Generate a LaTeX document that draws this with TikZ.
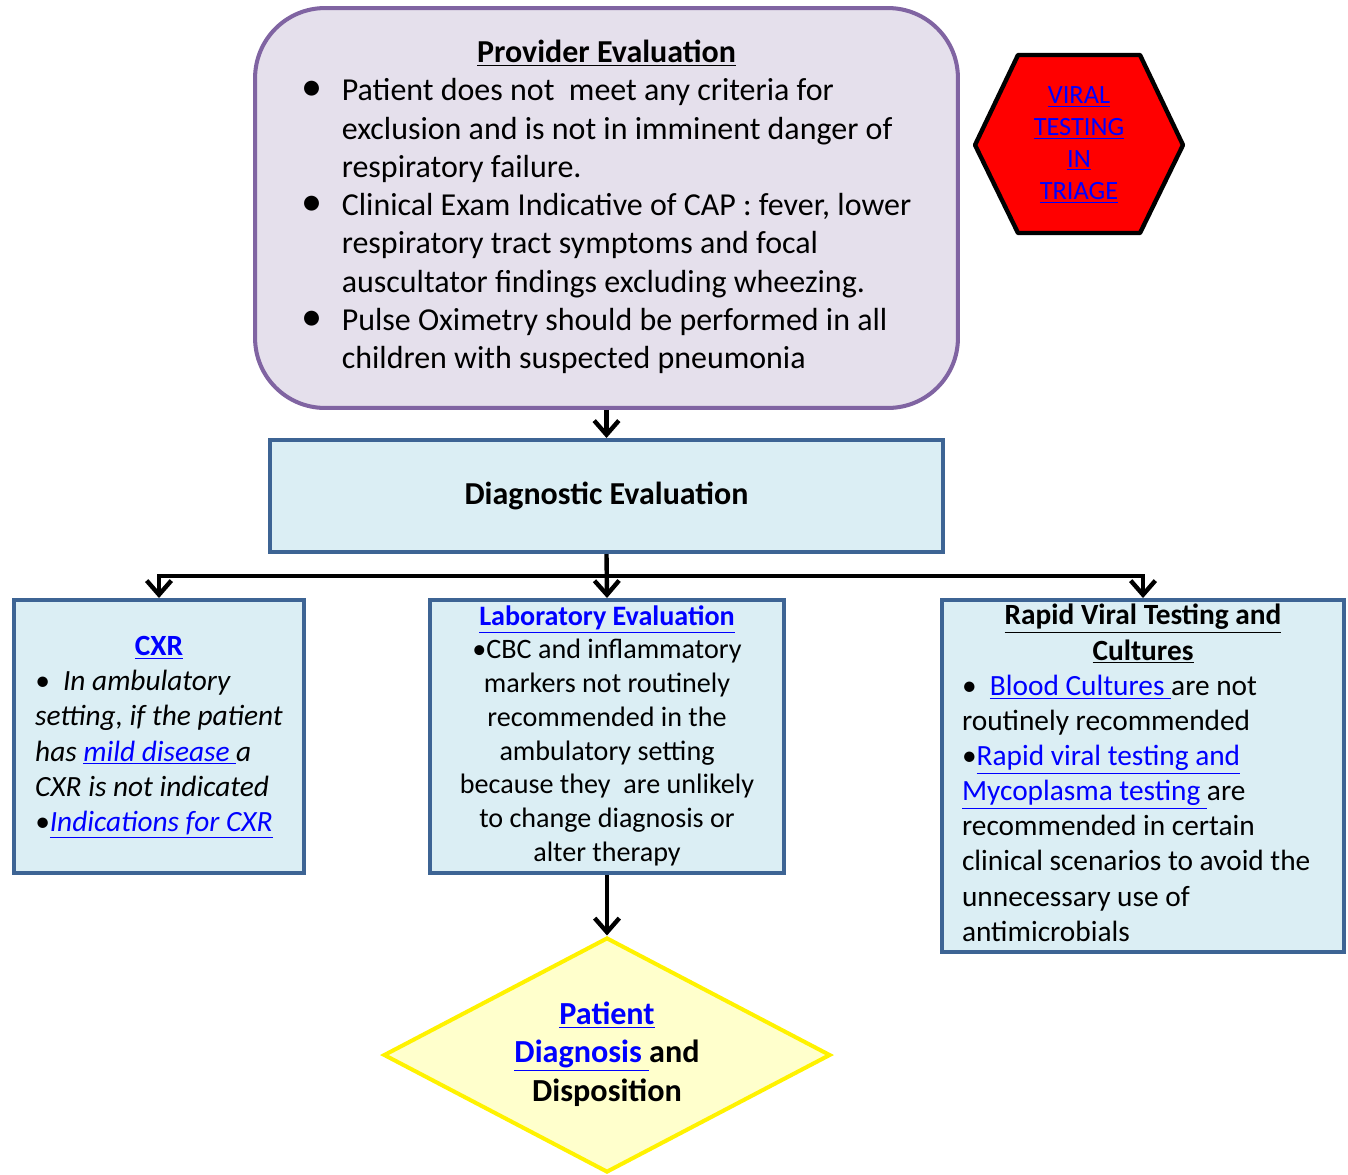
\documentclass[tikz,border=0pt]{standalone}
\usepackage{fontspec}
\setmainfont{Carlito}
\usetikzlibrary{arrows.meta,shapes.geometric}
\definecolor{lavender}{HTML}{E5E0EC}
\definecolor{purpleline}{HTML}{8064A2}
\definecolor{paleblue}{HTML}{DBEEF4}
\definecolor{blueline}{HTML}{3D6494}
\definecolor{paleyellow}{HTML}{FFFFCC}
\definecolor{linkblue}{HTML}{0000FF}
\newcommand{\lnk}[1]{\textcolor{linkblue}{\underline{#1}}}
\newcommand{\bigdot}{{\fontsize{24}{0}\selectfont\textbullet}}

\begin{document}
\begin{tikzpicture}[x=0.02cm,y=-0.02cm,
  box/.style={draw=blueline,fill=paleblue,line width=2.3pt,inner sep=0pt},
  link/.style={-{Straight Barb[length=8pt,width=14pt]},line width=2.5pt}]
\useasboundingbox (0,0) rectangle (1348,1174);

% top box
\node[draw=purpleline,fill=lavender,line width=2.3pt,rounded corners=1.4cm,
  minimum width=14.06cm,minimum height=8cm,inner sep=0pt] (prov) at (606.5,208)
{\fontsize{18.2}{21.8}\selectfont
\begin{tabular}{@{}p{0.8cm}@{}l@{}}
\multicolumn{2}{c}{\textbf{\underline{Provider Evaluation}}}\\
\bigdot & Patient does not\ \ meet any criteria for\\
 & exclusion and is not in imminent danger of\\
 & respiratory failure.\\
\bigdot & Clinical Exam Indicative of CAP : fever, lower\\
 & respiratory tract symptoms and focal\\
 & auscultator findings excluding wheezing.\\
\bigdot & Pulse Oximetry should be performed in all\\
 & children with suspected pneumonia
\end{tabular}};

% stop sign
\draw[line width=2.5pt,line join=round,fill=red] (975,145) -- (1018,55) -- (1140,55)
  -- (1183,145) -- (1140,233) -- (1018,233) -- cycle;
\node (triage) at (1079,145) {\fontsize{15}{18.2}\selectfont
\begin{tabular}{@{}c@{}}\lnk{VIRAL}\\ \lnk{TESTING}\\ \lnk{IN}\\ \lnk{TRIAGE}\end{tabular}};

\node[box,minimum width=13.46cm,minimum height=2.24cm] (diag) at (606.5,496)
{\fontsize{18.2}{22}\selectfont\textbf{Diagnostic Evaluation}};

\node[box,minimum width=5.8cm,minimum height=5.46cm] (cxr) at (159,736.5)
{\fontsize{16.7}{20}\selectfont
\begin{tabular}{@{}l@{}}
\multicolumn{1}{c}{\textbf{\lnk{CXR}}}\\
\textit{\textbullet\ \ In ambulatory}\\
\textit{setting, if the patient}\\
\textit{has \lnk{mild disease\ }a}\\
\textit{CXR is not indicated}\\
\textit{\textbullet\lnk{Indications for CXR}}
\end{tabular}};

\node[box,minimum width=7.08cm,minimum height=5.46cm] (lab) at (607,736.5)
{\fontsize{16}{19.2}\selectfont
\begin{tabular}{@{}c@{}}
\textbf{\lnk{Laboratory Evaluation}}\\
\textbullet CBC and inflammatory\\
markers not routinely\\
recommended in the\\
ambulatory setting\\
because they\ \ are unlikely\\
to change diagnosis or\\
alter therapy
\end{tabular}};

\node[box,minimum width=8.04cm,minimum height=7.04cm] (rapid) at (1143,776)
{\fontsize{16.7}{20}\selectfont
\begin{tabular}{@{}p{7.24cm}@{}}
\multicolumn{1}{c}{\textbf{\underline{Rapid Viral Testing and}}}\\
\multicolumn{1}{c}{\textbf{\underline{Cultures}}}\\
\textbullet\ \ \lnk{Blood Cultures\ }are not\\
routinely recommended\\
\textbullet\lnk{Rapid viral testing and}\\
\lnk{Mycoplasma testing\ }are\\
recommended in certain\\
clinical scenarios to avoid the\\
unnecessary use of\\
antimicrobials
\end{tabular}};

\node[diamond,aspect=1.9,draw=yellow,fill=paleyellow,line width=2.3pt,inner sep=0pt,
  minimum width=8.94cm,minimum height=4.7cm] (disp) at (607,1055)
{\fontsize{18.3}{21.9}\selectfont\bfseries
\begin{tabular}{@{}c@{}}\lnk{Patient}\\ \lnk{Diagnosis\ }and\\ Disposition\end{tabular}};

\coordinate (split) at (607,576);
\draw[link] (prov.south) -- (diag.north);
\draw[link] (diag.south) -- (lab.north);
\draw[link] (split) -| (cxr.north);
\draw[link] (split) -| (rapid.north);
\draw[link] (lab.south) -- (disp.north);
\end{tikzpicture}
\end{document}
